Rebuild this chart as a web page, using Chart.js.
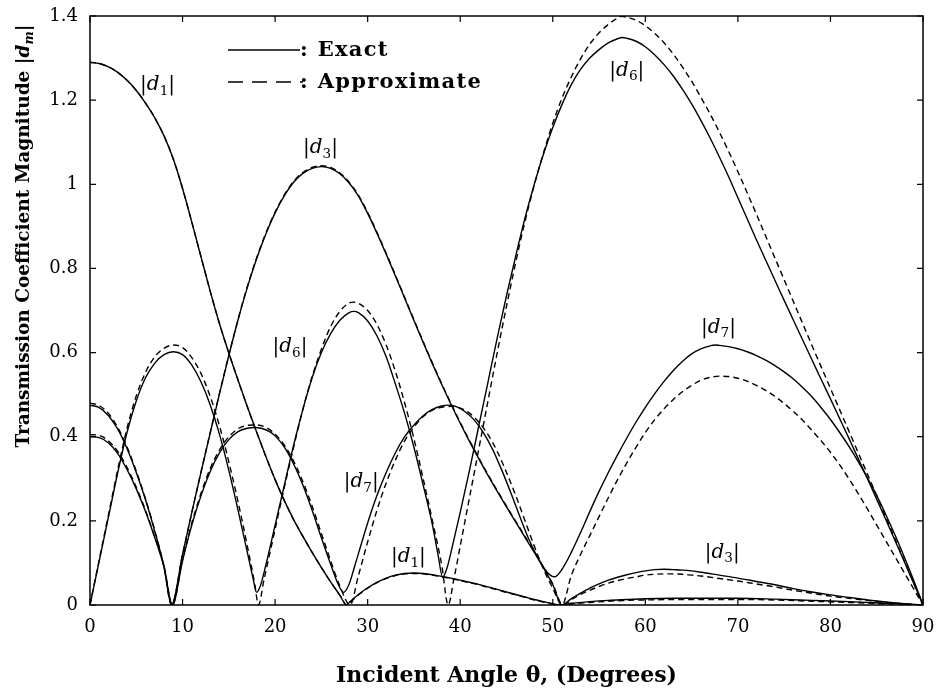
<!DOCTYPE html>
<html>
<head>
<meta charset="utf-8">
<script src="https://cdn.jsdelivr.net/npm/chart.js@4.4.0/dist/chart.umd.min.js"></script>
<style>
  html, body { margin: 0; padding: 0; background: #fff; }
</style>
</head>
<body>
<canvas id="chart" width="939" height="693"></canvas>
<script>
// tick values
const xTicks = [0, 10, 20, 30, 40, 50, 60, 70, 80, 90];
const yTicks = [0, 0.2, 0.4, 0.6, 0.8, 1, 1.2, 1.4];

// [incident angle (deg), |d_m|]
const d1Exact = [[0,1.29],[1,1.287],[2,1.279],[3,1.266],[4,1.247],[5,1.223],[6,1.193],[7,1.158],[8,1.115],[9,1.06],[10,0.99],[11,0.91],[12,0.827],[13,0.745],[14,0.668],[15,0.599],[16,0.534],[17,0.471],[18,0.411],[19,0.353],[20,0.298],[21,0.248],[22,0.203],[23,0.163],[24,0.125],[25,0.089],[26,0.055],[27,0.023],[27.7,0],[28,0.006],[29,0.025],[30,0.041],[31,0.054],[32,0.064],[33,0.071],[34,0.075],[35,0.076],[36,0.075],[37,0.072],[38,0.068],[39,0.064],[40,0.059],[41,0.054],[42,0.049],[43,0.043],[44,0.037],[45,0.031],[46,0.025],[47,0.019],[48,0.013],[49,0.008],[50,0.003],[50.8,0],[52,0.004],[54,0.008],[56,0.011],[58,0.013],[60,0.015],[63,0.016],[66,0.016],[70,0.016],[74,0.014],[78,0.011],[82,0.008],[86,0.004],[90,0]];
const d1Approx = [[0,1.29],[1,1.287],[2,1.279],[3,1.266],[4,1.247],[5,1.223],[6,1.193],[7,1.158],[8,1.115],[9,1.06],[10,0.99],[11,0.91],[12,0.827],[13,0.745],[14,0.668],[15,0.599],[16,0.534],[17,0.471],[18,0.411],[19,0.353],[20,0.298],[21,0.248],[22,0.203],[23,0.163],[24,0.125],[25,0.089],[26,0.055],[27,0.023],[27.8,0],[28.1,0.006],[29,0.024],[30,0.04],[31,0.053],[32,0.063],[33,0.07],[34,0.074],[35,0.075],[36,0.074],[37,0.071],[38,0.067],[39,0.063],[40,0.058],[41,0.053],[42,0.048],[43,0.042],[44,0.036],[45,0.03],[46,0.024],[47,0.018],[48,0.012],[49,0.007],[50,0.002],[50.9,0],[52,0.003],[54,0.006],[56,0.009],[58,0.011],[60,0.012],[63,0.013],[66,0.013],[70,0.013],[74,0.012],[78,0.009],[82,0.006],[86,0.003],[90,0]];

const d3Exact = [[0,0.475],[1,0.469],[2,0.45],[3,0.418],[4,0.372],[5,0.315],[6,0.25],[7,0.175],[8,0.09],[8.8,0],[10,0.12],[11,0.22],[12,0.316],[13,0.41],[14,0.503],[15,0.593],[16,0.678],[17,0.755],[18,0.823],[19,0.882],[20,0.932],[21,0.973],[22,1.005],[23,1.026],[24,1.038],[25,1.042],[26,1.038],[27,1.025],[28,1.003],[29,0.972],[30,0.931],[31,0.884],[32,0.834],[33,0.782],[34,0.729],[35,0.676],[36,0.624],[37,0.573],[38,0.524],[39,0.477],[40,0.432],[41,0.389],[42,0.348],[43,0.308],[44,0.27],[45,0.233],[46,0.197],[47,0.161],[48,0.125],[49,0.088],[50,0.048],[51,0],[52,0.015],[53,0.028],[54,0.04],[55,0.05],[56,0.059],[57,0.066],[58,0.072],[59,0.077],[60,0.081],[61,0.084],[62,0.085],[63,0.084],[64,0.083],[65,0.081],[66,0.078],[68,0.071],[70,0.064],[72,0.056],[74,0.048],[76,0.039],[78,0.031],[80,0.024],[82,0.018],[84,0.012],[86,0.007],[88,0.003],[90,0]];
const d3Approx = [[0,0.48],[1,0.474],[2,0.455],[3,0.422],[4,0.376],[5,0.318],[6,0.252],[7,0.177],[8,0.091],[8.8,0],[10,0.12],[11,0.22],[12,0.317],[13,0.411],[14,0.504],[15,0.594],[16,0.679],[17,0.757],[18,0.825],[19,0.884],[20,0.934],[21,0.975],[22,1.007],[23,1.028],[24,1.04],[25,1.044],[26,1.04],[27,1.027],[28,1.005],[29,0.974],[30,0.933],[31,0.886],[32,0.836],[33,0.784],[34,0.731],[35,0.678],[36,0.626],[37,0.575],[38,0.526],[39,0.479],[40,0.434],[41,0.391],[42,0.35],[43,0.31],[44,0.272],[45,0.235],[46,0.199],[47,0.163],[48,0.127],[49,0.09],[50,0.05],[51.1,0],[52,0.013],[53,0.025],[54,0.035],[55,0.044],[56,0.052],[57,0.058],[58,0.063],[59,0.067],[60,0.071],[61,0.073],[62,0.074],[63,0.074],[64,0.073],[65,0.071],[66,0.069],[68,0.063],[70,0.057],[72,0.05],[74,0.043],[76,0.035],[78,0.028],[80,0.021],[82,0.016],[84,0.011],[86,0.006],[88,0.003],[90,0]];

const d6Exact = [[0,0],[1,0.105],[2,0.21],[3,0.315],[4,0.41],[5,0.485],[6,0.54],[7,0.575],[8,0.595],[9,0.602],[10,0.595],[11,0.57],[12,0.53],[13,0.475],[14,0.405],[15,0.32],[16,0.225],[17,0.125],[17.6,0.065],[18,0.03],[18.4,0.045],[19,0.095],[20,0.19],[21,0.285],[22,0.38],[23,0.465],[24,0.54],[25,0.6],[26,0.645],[27,0.677],[28,0.695],[28.5,0.698],[29,0.695],[30,0.675],[31,0.64],[32,0.59],[33,0.525],[34,0.455],[35,0.375],[36,0.285],[37,0.19],[37.6,0.12],[38.1,0.066],[38.6,0.09],[39,0.125],[40,0.22],[41,0.32],[42,0.425],[43,0.53],[44,0.635],[45,0.735],[46,0.83],[47,0.92],[48,1.0],[49,1.072],[50,1.135],[51,1.19],[52,1.237],[53,1.273],[54,1.3],[55,1.32],[56,1.336],[57,1.346],[57.5,1.349],[58,1.347],[59,1.34],[60,1.327],[61,1.308],[62,1.285],[63,1.258],[64,1.226],[65,1.191],[66,1.152],[67,1.11],[68,1.065],[69,1.018],[70,0.968],[71,0.918],[72,0.868],[73,0.82],[74,0.772],[75,0.724],[76,0.677],[77,0.63],[78,0.583],[79,0.536],[80,0.49],[81,0.443],[82,0.396],[83,0.348],[84,0.3],[85,0.251],[86,0.202],[87,0.152],[88,0.102],[89,0.051],[90,0]];
const d6Approx = [[0,0],[1,0.108],[2,0.215],[3,0.322],[4,0.42],[5,0.497],[6,0.553],[7,0.59],[8,0.61],[9,0.618],[10,0.612],[11,0.588],[12,0.55],[13,0.495],[14,0.425],[15,0.34],[16,0.245],[17,0.14],[17.8,0.05],[18.2,0],[18.8,0.06],[20,0.18],[21,0.28],[22,0.375],[23,0.465],[24,0.543],[25,0.608],[26,0.662],[27,0.698],[28,0.718],[28.5,0.72],[29,0.717],[30,0.7],[31,0.667],[32,0.618],[33,0.555],[34,0.48],[35,0.395],[36,0.3],[37,0.2],[38,0.095],[38.7,0],[39.3,0.06],[40,0.14],[41,0.255],[42,0.37],[43,0.485],[44,0.6],[45,0.71],[46,0.815],[47,0.912],[48,0.998],[49,1.075],[50,1.145],[51,1.205],[52,1.255],[53,1.298],[54,1.333],[55,1.36],[56,1.38],[57,1.395],[57.4,1.399],[58,1.397],[59,1.39],[60,1.377],[61,1.359],[62,1.337],[63,1.31],[64,1.279],[65,1.245],[66,1.207],[67,1.167],[68,1.124],[69,1.078],[70,1.03],[71,0.98],[72,0.929],[73,0.877],[74,0.825],[75,0.773],[76,0.721],[77,0.669],[78,0.617],[79,0.566],[80,0.515],[81,0.464],[82,0.413],[83,0.362],[84,0.311],[85,0.26],[86,0.208],[87,0.156],[88,0.104],[89,0.052],[90,0]];

const d7Exact = [[0,0.4],[1,0.398],[2,0.385],[3,0.36],[4,0.322],[5,0.276],[6,0.222],[7,0.16],[8,0.09],[8.9,0],[10,0.105],[11,0.19],[12,0.26],[13,0.318],[14,0.362],[15,0.393],[16,0.412],[17,0.42],[17.8,0.422],[18.5,0.42],[19.4,0.412],[20,0.402],[21,0.375],[22,0.335],[23,0.285],[24,0.225],[25,0.16],[26,0.097],[26.8,0.05],[27.4,0.03],[28,0.05],[28.5,0.085],[29,0.122],[30,0.195],[31,0.26],[32,0.315],[33,0.362],[34,0.4],[35,0.428],[36,0.45],[37,0.465],[38,0.473],[38.7,0.475],[39.5,0.472],[40.5,0.46],[41.5,0.44],[42.5,0.41],[43.5,0.37],[44.5,0.32],[45.5,0.265],[46.5,0.207],[47.5,0.152],[48.5,0.108],[49.4,0.078],[50.2,0.067],[51,0.085],[52,0.125],[53,0.172],[54,0.222],[55,0.27],[56,0.315],[57,0.357],[58,0.397],[59,0.435],[60,0.47],[61,0.502],[62,0.531],[63,0.557],[64,0.579],[65,0.597],[66,0.609],[67,0.616],[67.5,0.618],[68,0.617],[69,0.614],[70,0.609],[71,0.602],[72,0.593],[73,0.582],[74,0.569],[75,0.554],[76,0.537],[77,0.517],[78,0.495],[79,0.469],[80,0.441],[81,0.41],[82,0.377],[83,0.341],[84,0.302],[85,0.26],[86,0.214],[87,0.165],[88,0.113],[89,0.058],[90,0]];
const d7Approx = [[0,0.405],[1,0.403],[2,0.39],[3,0.365],[4,0.327],[5,0.28],[6,0.225],[7,0.162],[8,0.092],[8.9,0],[10,0.108],[11,0.195],[12,0.266],[13,0.325],[14,0.369],[15,0.4],[16,0.419],[17,0.427],[18,0.428],[19,0.422],[20,0.406],[21,0.38],[22,0.342],[23,0.293],[24,0.235],[25,0.17],[26,0.105],[27,0.045],[28.1,0],[29,0.07],[30,0.15],[31,0.225],[32,0.29],[33,0.345],[34,0.39],[35,0.423],[36,0.448],[37,0.463],[38,0.47],[39,0.472],[40,0.468],[41,0.456],[42,0.435],[43,0.405],[44,0.365],[45,0.315],[46,0.26],[47,0.2],[48,0.14],[49,0.085],[50,0.04],[51,0],[52,0.07],[53,0.12],[54,0.165],[55,0.21],[56,0.255],[57,0.298],[58,0.338],[59,0.375],[60,0.41],[61,0.44],[62,0.466],[63,0.488],[64,0.507],[65,0.522],[66,0.534],[67,0.541],[68,0.544],[69,0.543],[70,0.539],[71,0.532],[72,0.522],[73,0.51],[74,0.496],[75,0.479],[76,0.46],[77,0.439],[78,0.415],[79,0.39],[80,0.363],[81,0.333],[82,0.3],[83,0.265],[84,0.228],[85,0.19],[86,0.152],[87,0.114],[88,0.076],[89,0.038],[90,0]];

const SERIF = '"DejaVu Serif", serif';

// curve labels |d_m| placed in data coordinates
const curveLabels = [
  { m: '1', x: 7.3, y: 1.236 },
  { m: '3', x: 24.9, y: 1.086 },
  { m: '6', x: 21.6, y: 0.613 },
  { m: '7', x: 29.3, y: 0.292 },
  { m: '1', x: 34.4, y: 0.114 },
  { m: '6', x: 58, y: 1.27 },
  { m: '7', x: 67.9, y: 0.66 },
  { m: '3', x: 68.3, y: 0.124 }
];

function toXY(arr) {
  return arr.map(p => ({ x: p[0], y: p[1] }));
}

function line(data, dashed) {
  return {
    data: toXY(data),
    showLine: true,
    borderColor: '#000',
    borderWidth: 1.4,
    borderDash: dashed ? [6, 4] : [],
    pointRadius: 0,
    fill: false,
    cubicInterpolationMode: 'monotone'
  };
}

// draws text made of pieces (italic / subscript), centred on x
function richText(ctx, parts, x, y, size, weight) {
  const fontOf = p => (p.italic ? 'italic ' : '') + (weight || '') + ' ' +
    (p.sub ? size * 0.68 : size) + 'px ' + SERIF;
  const widths = parts.map(p => { ctx.font = fontOf(p); return ctx.measureText(p.t).width; });
  const total = widths.reduce((a, b) => a + b, 0);
  let cx = x - total / 2;
  ctx.textAlign = 'left';
  ctx.textBaseline = 'middle';
  parts.forEach((p, i) => {
    ctx.font = fontOf(p);
    ctx.fillText(p.t, cx, y + (p.sub ? size * 0.3 : 0));
    cx += widths[i];
  });
}

const decorations = {
  id: 'decorations',
  afterDraw(chart) {
    const ctx = chart.ctx;
    const { left, right, top, bottom } = chart.chartArea;
    const xs = chart.scales.x, ys = chart.scales.y;
    ctx.save();
    ctx.strokeStyle = '#000';
    ctx.fillStyle = '#000';

    // frame
    ctx.lineWidth = 1.5;
    ctx.strokeRect(left, top, right - left, bottom - top);

    // inward ticks on all sides
    ctx.lineWidth = 1.2;
    ctx.beginPath();
    xTicks.forEach(v => {
      const px = xs.getPixelForValue(v);
      ctx.moveTo(px, bottom); ctx.lineTo(px, bottom - 6);
      ctx.moveTo(px, top); ctx.lineTo(px, top + 6);
    });
    yTicks.forEach(v => {
      const py = ys.getPixelForValue(v);
      ctx.moveTo(left, py); ctx.lineTo(left + 6, py);
      ctx.moveTo(right, py); ctx.lineTo(right - 6, py);
    });
    ctx.stroke();

    // curve labels
    curveLabels.forEach(l => {
      richText(ctx, [{ t: '|' }, { t: 'd', italic: true }, { t: l.m, sub: true }, { t: '|' }],
        xs.getPixelForValue(l.x), ys.getPixelForValue(l.y), 20);
    });

    // legend
    const lx0 = left + 138, lx1 = left + 210, ly1 = top + 34, ly2 = top + 66;
    ctx.lineWidth = 1.4;
    ctx.beginPath();
    ctx.moveTo(lx0, ly1); ctx.lineTo(lx1, ly1);
    ctx.stroke();
    ctx.setLineDash([15, 9]);
    ctx.beginPath();
    ctx.moveTo(lx0, ly2); ctx.lineTo(lx1 + 3, ly2);
    ctx.stroke();
    ctx.setLineDash([]);
    ctx.font = 'bold 21px ' + SERIF;
    ctx.letterSpacing = '1.3px';
    ctx.textAlign = 'left';
    ctx.textBaseline = 'middle';
    ctx.fillText(': Exact', lx1, ly1 + 1);
    ctx.fillText(': Approximate', lx1, ly2 + 1);
    ctx.letterSpacing = '0px';

    // y-axis title
    ctx.save();
    ctx.translate(24, 236);
    ctx.rotate(-Math.PI / 2);
    richText(ctx, [{ t: 'Transmission Coefficient Magnitude |' }, { t: 'd', italic: true }, { t: 'm', italic: true, sub: true }, { t: '|' }], 0, 0, 18.5, 'bold');
    ctx.restore();

    ctx.restore();
  }
};

window.onload = function() {
  const ctx = document.getElementById('chart');
  window.myChart = new Chart(ctx, {
    type: 'scatter',
    data: {
      datasets: [
        line(d1Exact, false), line(d1Approx, true),
        line(d3Exact, false), line(d3Approx, true),
        line(d6Exact, false), line(d6Approx, true),
        line(d7Exact, false), line(d7Approx, true)
      ]
    },
    options: {
      responsive: false,
      animation: false,
      layout: { padding: { top: 16, right: 16, left: 0, bottom: 0 } },
      plugins: {
        legend: { display: false },
        tooltip: { enabled: false }
      },
      scales: {
        x: {
          type: 'linear',
          min: 0, max: 90,
          afterBuildTicks: s => { s.ticks = xTicks.map(v => ({ value: v })); },
          afterFit: s => { s.height = 88; s.paddingLeft = 0; s.paddingRight = 0; },
          grid: { display: false, drawTicks: false },
          border: { display: false },
          ticks: { color: '#000', padding: 12, font: { family: SERIF, size: 18 } },
          title: {
            display: true,
            text: 'Incident Angle \u03b8, (Degrees)',
            color: '#000',
            font: { family: SERIF, size: 22, weight: 'bold' },
            padding: { top: 0, bottom: 4 }
          }
        },
        y: {
          min: 0, max: 1.4,
          afterBuildTicks: s => { s.ticks = yTicks.map(v => ({ value: v })); },
          afterFit: s => { s.width = 90; s.paddingTop = 0; s.paddingBottom = 0; },
          grid: { display: false, drawTicks: false },
          border: { display: false },
          ticks: {
            color: '#000', padding: 12,
            font: { family: SERIF, size: 18 },
            callback: v => String(+v.toFixed(1))
          }
        }
      }
    },
    plugins: [decorations]
  });
};
</script>
</body>
</html>
